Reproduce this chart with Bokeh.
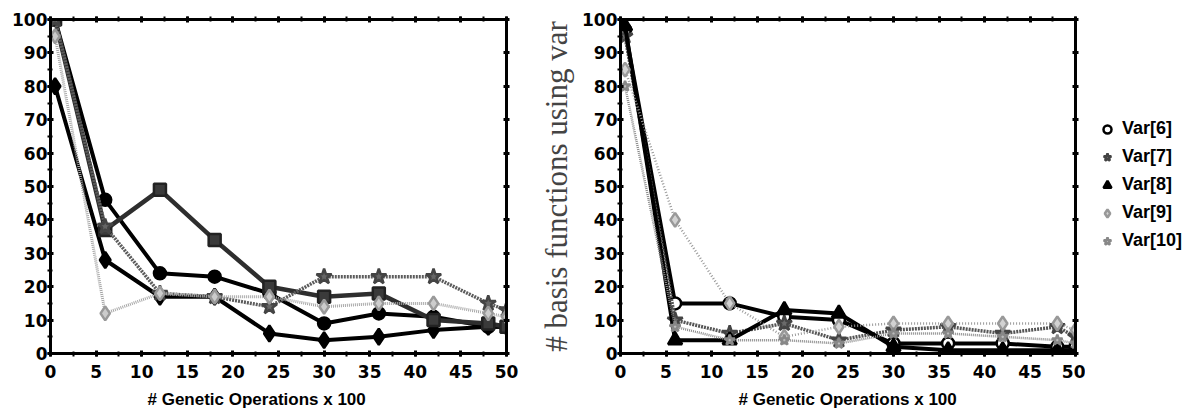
from bokeh.plotting import figure
from bokeh.layouts import row
from bokeh.models import (Range1d, LinearAxis, SingleIntervalTicker, Legend, LegendItem,
                          Title, CustomJSTickFormatter)
from bokeh.embed import file_html
from bokeh.resources import INLINE

# ---------------- data ----------------
ops = [0.5, 6, 12, 18, 24, 30, 36, 42, 48, 50]   # genetic operations x 100

# left panel
var1 = [100, 46, 24, 23, 18, 9, 12, 11, 8, 8]
var2 = [80, 28, 17, 17, 6, 4, 5, 7, 8, 8]
var3 = [100, 37, 49, 34, 20, 17, 18, 10, 9, 8]
var4 = [100, 38, 18, 17, 14, 23, 23, 23, 15, 13]
var5 = [95, 12, 18, 17, 17, 14, 15, 15, 12, 11]

# right panel
var6 = [97, 15, 15, 11, 10, 3, 3, 3, 2, 2]
var7 = [95, 10, 6, 9, 4, 7, 8, 6, 8, 5]
var8 = [98, 4, 4, 13, 12, 2, 1, 1, 1, 1]
var9 = [85, 40, 15, 5, 8, 9, 9, 9, 9, 7]
var10 = [80, 8, 4, 4, 3, 6, 6, 5, 4, 3]

right_names = ["Var[6]", "Var[7]", "Var[8]", "Var[9]", "Var[10]"]
x_title = "# Genetic Operations x 100"
y_title = "# basis functions using var"

TICK_FONT = "DejaVu Sans"
LABEL_FONT = "Liberation Sans"

left_styles = [
    dict(lc="black", lw=4, dash="solid", marker="circle", fc="black", mc="black", size=12),
    dict(lc="black", lw=4, dash="solid", marker="diamond", fc="black", mc="black", size=16),
    dict(lc="#2e2e2e", lw=4.5, dash="solid", marker="square", fc="#3a3a3a", mc="#222222", size=12),
    dict(lc="#5c5c5c", lw=3.5, dash="2 1", marker="star", fc="#666666", mc="#444444", size=16),
    dict(lc="#a6a6a6", lw=3, dash="1 1", marker="diamond", fc="#cccccc", mc="#999999", size=14),
]
right_styles = [
    dict(lc="black", lw=4, dash="solid", marker="circle", fc="white", mc="black", size=12),
    dict(lc="#555555", lw=3.5, dash="2 1", marker="star", fc="#6a6a6a", mc="#444444", size=16),
    dict(lc="black", lw=4, dash="solid", marker="triangle", fc="black", mc="black", size=14),
    dict(lc="#9a9a9a", lw=2.5, dash="1 2", marker="diamond", fc="#d2d2d2", mc="#999999", size=14),
    dict(lc="#8a8a8a", lw=2.5, dash="1 1", marker="star", fc="#bbbbbb", mc="#888888", size=11),
]


def style_axis(ax, show_labels):
    ax.axis_line_width = 3
    ax.axis_line_color = "black"
    ax.major_tick_line_width = 3
    ax.minor_tick_line_width = 2
    ax.major_tick_in = 3
    ax.major_tick_out = 3
    ax.minor_tick_in = 2
    ax.minor_tick_out = 3
    if show_labels:
        ax.major_label_text_font = TICK_FONT
        ax.major_label_text_font_style = "bold"
        ax.major_label_text_font_size = "17px"
        ax.major_label_text_color = "black"
    else:
        ax.formatter = CustomJSTickFormatter(code="return ''")
        ax.major_label_text_font_size = "0px"
        ax.major_label_standoff = 0


def make_fig(width, min_left, min_right):
    p = figure(width=width, height=416, x_range=Range1d(0, 50), y_range=Range1d(0, 100),
               x_axis_type=None, y_axis_type=None,
               output_backend="svg", toolbar_location=None,
               min_border_left=min_left, min_border_right=min_right,
               min_border_top=19, min_border_bottom=63)
    p.grid.visible = False
    p.outline_line_color = None
    p.background_fill_color = "white"
    p.border_fill_color = "white"
    bottom = LinearAxis(ticker=SingleIntervalTicker(interval=5, num_minor_ticks=2))
    top = LinearAxis(ticker=SingleIntervalTicker(interval=5, num_minor_ticks=2))
    left = LinearAxis(ticker=SingleIntervalTicker(interval=10, num_minor_ticks=2))
    right = LinearAxis(ticker=SingleIntervalTicker(interval=10, num_minor_ticks=0))
    style_axis(bottom, True)
    style_axis(left, True)
    style_axis(top, False)
    style_axis(right, False)
    bottom.major_label_standoff = 8
    left.major_label_standoff = 0
    p.add_layout(bottom, "below")
    p.add_layout(top, "above")
    p.add_layout(left, "left")
    p.add_layout(right, "right")
    return p, bottom, left


def draw(p, ys, styles):
    for y, s in zip(ys, styles):
        p.line(ops, y, line_color=s["lc"], line_width=s["lw"], line_dash=s["dash"],
               line_join="round")
        p.scatter(ops, y, marker=s["marker"], size=s["size"], fill_color=s["fc"],
                  line_color=s["mc"], line_width=2.5)


def add_xtitle(p, offset):
    p.add_layout(Title(text=x_title, align="left", offset=offset, standoff=14,
                       text_font=LABEL_FONT, text_font_style="bold",
                       text_font_size="17px", text_color="black"), "below")


# ---------------- left panel ----------------
p1, b1, l1 = make_fig(536, 50, 30)
draw(p1, [var1, var2, var3, var4, var5], left_styles)
add_xtitle(p1, 97)

# ---------------- right panel ----------------
p2, b2, l2 = make_fig(549, 84, 10)
draw(p2, [var6, var7, var8, var9, var10], right_styles)
add_xtitle(p2, 118)
l2.axis_label = y_title
l2.axis_label_text_font = "Liberation Serif"
l2.axis_label_text_font_style = "normal"
l2.axis_label_text_font_size = "31px"
l2.axis_label_standoff = 5

# ---------------- legend strip ----------------
p3 = figure(width=110, height=416, x_range=Range1d(0, 1), y_range=Range1d(0, 1),
            x_axis_type=None, y_axis_type=None, output_backend="svg",
            toolbar_location=None, min_border=0)
p3.grid.visible = False
p3.outline_line_color = None
items = []
for name, s in zip(right_names, right_styles):
    r = p3.scatter(x=[-5], y=[-5], marker=s["marker"], size=s["size"], fill_color=s["fc"],
                   line_color=s["mc"], line_width=2.5)
    items.append(LegendItem(label=name, renderers=[r]))
legend = Legend(items=items, location=(12, 102), orientation="vertical",
                border_line_color=None, background_fill_alpha=0,
                padding=0, margin=0, spacing=7, glyph_width=20, glyph_height=20,
                label_height=20, label_standoff=5,
                label_text_font=LABEL_FONT, label_text_font_style="bold",
                label_text_font_size="18px", label_text_color="black")
p3.add_layout(legend)

layout = row(p1, p2, p3)
open("out.html", "w").write(file_html(layout, INLINE))
